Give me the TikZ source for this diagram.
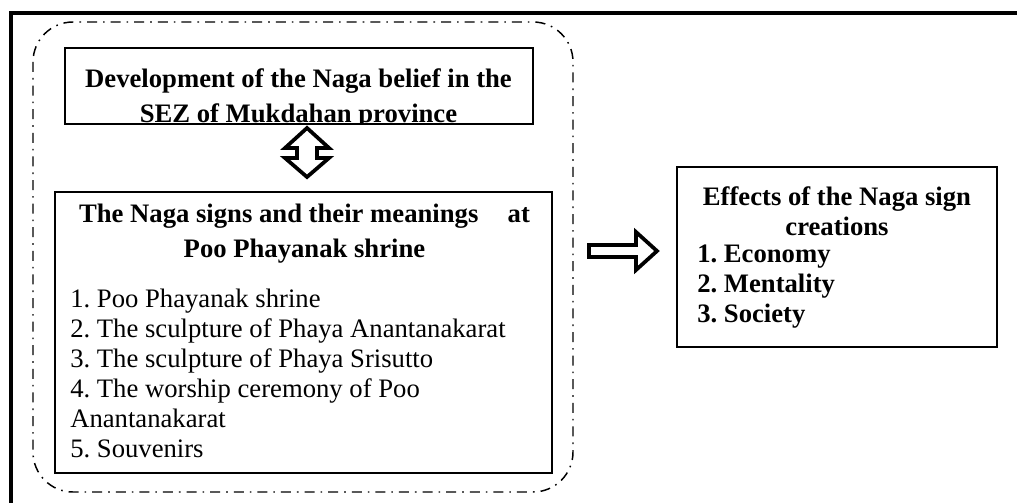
\documentclass[tikz,border=0pt]{standalone}
\usepackage{fontspec}
\setmainfont{Liberation Serif}
\frenchspacing
\usetikzlibrary{calc}
\usetikzlibrary{positioning}
\tikzset{>=latex}
\tikzstyle{framebox} = [rectangle, draw=black, line width=1.4pt, inner sep=0pt]
\tikzstyle{headtext} = [inner sep=0pt, align=center, font=\bfseries\fontsize{20}{26.25}\selectfont]
\tikzstyle{listtext} = [inner sep=0pt, align=left, font=\fontsize{20}{22.5}\selectfont]
\tikzstyle{blockarrow} = [line width=2.8pt, line join=miter, draw=black, fill=white]
\tikzstyle{dashdotline} = [line width=1.1pt, rounded corners=30pt, dash pattern=on 7.5pt off 4.5pt on 1.2pt off 4.5pt]

\begin{document}
\begin{tikzpicture}[x=0.75pt, y=-0.75pt]
\useasboundingbox (0,0) rectangle (1017,503);
\clip (0,0) rectangle (1017,503);
% outer frame, cut by the page
\draw [line width=3.6pt] (11,540) -- (11,13) -- (1040,13);
% group round the left part
\draw [dashdotline] (33,22) rectangle (573,492);

\node [framebox, minimum width=351pt, minimum height=57pt] (dev) at (299,86) {};
\node [framebox, minimum width=372.75pt, minimum height=210.75pt] (signs) at (303.5,332.5) {};
\node [framebox, minimum width=240pt, minimum height=135pt] (effects) at (837,257) {};

\begin{scope}
\clip (dev.south west) rectangle (dev.north east);
\node [headtext, anchor=north] (devtext) at (298.5,68) {Development of the Naga belief in the\\SEZ of Mukdahan province};
\end{scope}
\node [headtext, anchor=north] (signshead) at (304.5,204) {The Naga signs and their meanings\hspace{17pt} at\\Poo Phayanak shrine};
\node [listtext, anchor=north west] (signslist) at (70,289) {1. Poo Phayanak shrine\\2. The sculpture of Phaya Anantanakarat\\3. The sculpture of Phaya Srisutto\\4. The worship ceremony of Poo\\Anantanakarat\\5. Souvenirs};
\node [headtext, font=\bfseries\fontsize{20}{22.5}\selectfont, anchor=north] (effhead) at (837,186) {Effects of the Naga sign\\creations};
\node [listtext, font=\bfseries\fontsize{20}{22.5}\selectfont, anchor=north west] (efflist) at (697,245) {1. Economy\\2. Mentality\\3. Society};

% block arrows
\coordinate (link) at (307,152);
\draw [blockarrow, shift={(link)}] (0,-24) -- (22,-4) -- (10,-4) -- (10,6) -- (22,6) -- (0,25) -- (-22,6) -- (-10,6) -- (-10,-4) -- (-22,-4) -- cycle;
\coordinate (go) at (623,251);
\draw [blockarrow, shift={(go)}] (-34,-6) -- (13,-6) -- (13,-19) -- (34,0) -- (13,19) -- (13,6) -- (-34,6) -- cycle;
\end{tikzpicture}
\end{document}
